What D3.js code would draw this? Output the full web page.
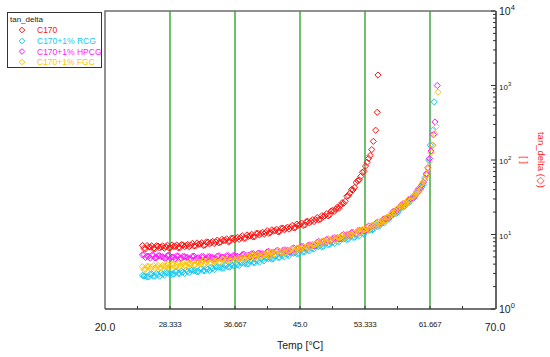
<!DOCTYPE html>
<html><head><meta charset="utf-8">
<script src="https://cdn.jsdelivr.net/npm/d3@7"></script>
<style>
html,body{margin:0;padding:0;background:#fff;}
svg{display:block;font-family:"Liberation Sans",Arial,sans-serif;}
</style></head>
<body>
<svg id="chart" width="550" height="357"></svg>
<script>
// ---- data ----
const temps = [24.8,25.2,25.6,26.0,26.4,26.8,27.2,27.6,
28.0,28.4,28.8,29.2,29.6,30.0,30.4,30.8,
31.2,31.6,32.0,32.4,32.8,33.2,33.6,34.0,
34.4,34.8,35.2,35.6,36.0,36.4,36.8,37.2,
37.6,38.0,38.4,38.8,39.2,39.6,40.0,40.4,
40.8,41.2,41.6,42.0,42.4,42.8,43.2,43.6,
44.0,44.4,44.8,45.2,45.6,46.0,46.4,46.8,
47.2,47.6,48.0,48.4,48.8,49.2,49.6,50.0,
50.4,50.8,51.2,51.6,52.0,52.4,52.8,53.2,
53.6,54.0,54.4,54.8,55.2,55.6,56.0,56.4,
56.8,57.2,57.6,58.0,58.4,58.8,59.2,59.6,
60.0,60.4,60.8,61.2];
const temps2 = [25.0,25.4,25.8,26.2,26.6,27.0,27.4,27.8,
28.2,28.6,29.0,29.4,29.8,30.2,30.6,31.0,
31.4,31.8,32.2,32.6,33.0,33.4,33.8,34.2,
34.6,35.0,35.4,35.8,36.2,36.6,37.0,37.4,
37.8,38.2,38.6,39.0,39.4,39.8,40.2,40.6,
41.0,41.4,41.8,42.2,42.6,43.0,43.4,43.8,
44.2,44.6,45.0,45.4,45.8,46.2,46.6,47.0,
47.4,47.8,48.2,48.6,49.0,49.4,49.8,50.2,
50.6,51.0,51.4,51.8,52.2,52.6,53.0,53.4,
53.8,54.2,54.6,55.0,55.4,55.8,56.2,56.6,
57.0,57.4,57.8,58.2,58.6,59.0,59.4,59.8,
60.2,60.6,61.0];

// C170
const c170 = [7.10,6.42,6.80,7.05,6.45,6.99,6.81,6.55,
7.18,6.64,6.90,7.23,6.65,7.26,7.10,6.87,
7.59,7.02,7.38,7.76,7.19,7.90,7.78,7.57,
8.40,7.89,8.26,8.73,8.08,8.93,8.83,8.61,
9.60,8.94,9.48,10.05,9.37,10.37,10.28,10.08,
11.26,10.59,11.12,11.80,10.98,12.15,12.05,11.81,
13.22,12.42,13.34,14.26,13.42,14.99,15.03,14.90,
16.87,16.00,17.38,18.93,18.32,21.03,21.88,22.50,
26.73,27.97,33.11,40.07,42.88,52.83,60.26,70.3];
const c170b = [6.49,7.10,6.77,6.45,7.06,6.60,7.02,6.83,
6.57,7.22,6.93,6.63,7.31,6.86,7.34,7.20,
6.98,7.71,7.42,7.14,7.92,7.49,8.07,7.95,
7.74,8.60,8.33,8.03,8.93,8.49,9.17,9.06,
8.86,9.86,9.57,9.27,10.36,9.87,10.70,10.61,
10.39,11.57,11.24,10.88,12.15,11.57,12.54,12.45,
12.25,13.80,13.53,13.22,14.91,14.35,15.73,15.80,
15.72,17.88,17.79,17.80,20.64,20.52,23.34,24.57,
26.18,32.52,36.0,39.70,49.90,54.10,68.34];
const c170TailT = [53.4,53.6,53.8,54.0,54.2,54.4,54.7,54.9,55.0];
const c170TailV = [83,93,105,115,138,178,251,437,1380];

// C170+1% RCG
const rcg = [2.83,2.78,2.70,2.95,2.75,2.90,3.04,2.84,
3.08,3.01,2.93,3.20,2.99,3.14,3.31,3.08,
3.34,3.27,3.18,3.49,3.26,3.44,3.62,3.39,
3.69,3.64,3.54,3.90,3.65,3.86,4.09,3.83,
4.18,4.12,4.03,4.45,4.19,4.44,4.70,4.43,
4.85,4.81,4.71,5.21,4.92,5.22,5.54,5.22,
5.73,5.69,5.59,6.20,5.86,6.24,6.69,6.36,
7.02,7.03,6.95,7.75,7.35,7.87,8.41,7.99,
8.81,8.79,8.68,9.66,9.17,9.89,10.67,10.20,
11.42,11.61,11.73,13.36,13.07,14.52,16.11,16.00,
18.49,19.32,20.05,23.83,23.89,27.04,30.56,30.78,
36.54,40.74,47.02,64.13];
const rcgB = [2.77,2.68,2.94,2.76,2.97,2.76,2.94,3.09,
3.00,2.91,3.19,3.00,3.22,3.00,3.20,3.35,
3.26,3.16,3.47,3.28,3.52,3.29,3.51,3.70,
3.61,3.52,3.87,3.66,3.94,3.70,3.96,4.19,
4.09,3.99,4.41,4.19,4.53,4.26,4.57,4.85,
4.76,4.67,5.16,4.91,5.33,5.01,5.39,5.72,
5.63,5.52,6.13,5.85,6.36,6.02,6.53,6.99,
6.93,6.85,7.64,7.33,8.00,7.58,8.21,8.77,
8.67,8.56,9.53,9.14,10.01,9.57,10.44,11.29,
11.35,11.44,13.04,12.83,14.49,14.25,16.08,18.00,
18.64,19.30,22.78,23.18,26.74,26.80,30.72,35.12,
38.11,43.07,57.53];
const rcgTailT = [61.5,61.7,62.0,62.2];
const rcgTailV = [100,158,251,603];

// C170+1% HPCG
const hpcg = [5.34,4.92,5.09,5.27,4.86,5.20,5.04,4.82,
5.21,4.80,4.98,5.17,4.74,5.08,4.91,4.70,
5.09,4.68,4.86,5.05,4.68,5.03,4.89,4.70,
5.12,4.74,4.97,5.19,4.81,5.20,5.08,4.92,
5.36,4.98,5.25,5.52,5.16,5.59,5.50,5.34,
5.84,5.46,5.75,6.05,5.66,6.16,6.07,5.90,
6.49,6.10,6.47,6.87,6.49,7.13,7.13,7.06,
7.87,7.49,8.04,8.59,8.15,8.95,8.91,8.76,
9.76,9.25,9.91,10.60,10.05,11.17,11.22,11.17,
12.59,12.09,13.18,14.35,13.94,15.81,16.22,16.76,
19.54,19.60,22.23,24.95,24.79,28.63,29.92,31.42,
37.76,40.02,50.12,65.6];
const hpcgB = [5.38,5.11,4.83,5.27,4.90,5.20,5.03,4.81,
5.26,4.99,4.73,5.15,4.79,5.07,4.91,4.70,
5.13,4.87,4.62,5.06,4.73,5.03,4.90,4.71,
5.18,4.96,4.73,5.20,4.88,5.22,5.10,4.93,
5.43,5.22,5.02,5.55,5.24,5.63,5.53,5.37,
5.94,5.72,5.50,6.09,5.76,6.21,6.11,5.95,
6.61,6.41,6.21,6.95,6.63,7.24,7.24,7.16,
8.07,7.92,7.74,8.71,8.33,9.06,9.02,8.88,
9.99,9.78,9.55,10.74,10.34,11.36,11.43,11.40,
12.97,12.89,12.82,14.73,14.49,16.26,16.84,17.40,
20.59,21.33,21.95,25.90,26.01,29.73,31.33,33.14,
40.95,45.90,53.77];
const hpcgTailT = [61.4,61.6,61.8,62.0,62.1,62.3,62.6];
const hpcgTailV = [79,105,132,158,219,324,1000];

// C170+1% FGC
const fgc = [3.69,3.43,3.72,3.63,3.51,3.84,3.57,3.74,
3.93,3.66,3.97,3.88,3.76,4.11,3.83,4.03,
4.22,3.94,4.27,4.19,4.07,4.45,4.16,4.37,
4.60,4.28,4.65,4.55,4.42,4.84,4.51,4.76,
5.02,4.70,5.12,5.04,4.91,5.39,5.04,5.33,
5.64,5.29,5.77,5.69,5.55,6.10,5.73,6.07,
6.42,6.03,6.59,6.53,6.41,7.11,6.77,7.26,
7.78,7.40,8.18,8.17,8.05,8.93,8.46,9.02,
9.64,9.15,10.08,10.07,9.94,11.15,10.65,11.51,
12.45,11.95,13.42,13.65,13.78,15.78,15.39,17.26,
19.32,19.37,22.64,23.71,24.51,28.58,28.40,32.36,
37.33,39.56,51.04,61.66];
const fgcB = [3.38,3.73,3.51,3.83,3.68,3.56,3.84,3.76,
3.61,3.98,3.75,4.10,3.94,3.81,4.13,4.05,
3.88,4.29,4.04,4.43,4.26,4.13,4.48,4.40,
4.22,4.66,4.39,4.80,4.63,4.49,4.87,4.80,
4.62,5.13,4.85,5.33,5.15,5.01,5.45,5.38,
5.19,5.78,5.48,6.02,5.83,5.68,6.20,6.12,
5.91,6.59,6.27,6.94,6.76,6.67,7.37,7.37,
7.22,8.14,7.81,8.69,8.49,8.35,9.18,9.15,
8.93,10.05,9.63,10.72,10.54,10.47,11.64,11.74,
11.60,13.25,12.94,14.70,14.76,14.98,17.14,17.92,
18.41,21.92,22.16,25.85,26.51,27.39,31.90,34.13,
36.62,47.20,53.93];
const fgcTailT = [61.4,61.6,61.8,62.0,62.3,62.5,62.7];
const fgcTailV = [76,95,126,158,224,282,813];

const seriesNames = ["C170","C170+1% RCG","C170+1% HPCG","C170+1% FGC"];
const seriesColors = ["#ff1010","#18c8f5","#ff14ff","#ffc400"];
const xTickValues = [20,28.333,36.667,45,53.333,61.667,70];
const xTickLabels = ["20.0","28.333","36.667","45.0","53.333","61.667","70.0"];
const yTickValues = [1,10,100,1000,10000];
const yTickExps = ["0","1","2","3","4"];

// ---- build series ----
function build(vals, valsB, tailT, tailV){
  const pts = [];
  vals.forEach((v,i)=>{
    pts.push({t:temps[i], v:v});
    if(i < valsB.length) pts.push({t:temps2[i], v:valsB[i]});
  });
  tailT.forEach((t,i)=>pts.push({t:t, v:tailV[i]}));
  return pts;
}
const series = [
  build(c170, c170b, c170TailT, c170TailV),
  build(rcg, rcgB, rcgTailT, rcgTailV),
  build(hpcg, hpcgB, hpcgTailT, hpcgTailV),
  build(fgc, fgcB, fgcTailT, fgcTailV)
];

// ---- scales ----
const x = d3.scaleLinear().domain([20,70]).range([105,495]);
const y = d3.scaleLog().domain([1,10000]).range([309,11]);

const svg = d3.select("#chart");

// green vertical grid lines
svg.append("g").selectAll("line").data(xTickValues.slice(1,-1)).join("line")
  .attr("x1",d=>x(d)).attr("x2",d=>x(d)).attr("y1",y(10000)).attr("y2",y(1))
  .attr("stroke","#4cb04c").attr("stroke-width",1.6);

// frame (top and left)
svg.append("path")
  .attr("d",`M${x(20)},${y(1)}V${y(10000)}H${x(70)}`)
  .attr("fill","none").attr("stroke","#6e6e6e").attr("stroke-width",1.5);

// diamonds
const R = 3.1;
const diamond = (cx,cy,r)=>`M${cx},${cy-r}L${cx+r},${cy}L${cx},${cy+r}L${cx-r},${cy}Z`;
series.forEach((pts,si)=>{
  svg.append("g").selectAll("path").data(pts).join("path")
    .attr("d",d=>diamond(x(d.t),y(d.v),R))
    .attr("fill","none").attr("stroke",seriesColors[si]).attr("stroke-width",1);
});

// bottom axis
const bottom = svg.append("g");
bottom.append("line").attr("x1",x(20)).attr("x2",x(70)).attr("y1",y(1)).attr("y2",y(1))
  .attr("stroke","#444").attr("stroke-width",1.5);
const minorX = d3.range(1,12).map(i=>20+i*50/12);
bottom.selectAll("line.tk").data(minorX).join("line").attr("class","tk")
  .attr("x1",d=>x(d)).attr("x2",d=>x(d)).attr("y1",y(1)).attr("y2",y(1)-3)
  .attr("stroke","#333").attr("stroke-width",1);
bottom.selectAll("text").data(xTickValues).join("text")
  .attr("x",d=>x(d))
  .attr("y",(d,i)=> (i===0||i===xTickValues.length-1)?331:327)
  .attr("text-anchor","middle")
  .attr("font-size",(d,i)=> (i===0||i===xTickValues.length-1)?10.5:8)
  .attr("fill","#222")
  .attr("letter-spacing",(d,i)=> (i===0||i===xTickValues.length-1)?0:-0.3)
  .text((d,i)=>xTickLabels[i]);
svg.append("text").attr("x",300).attr("y",349).attr("text-anchor","middle")
  .attr("font-size",10.5).attr("fill","#222").text("Temp [°C]");

// right log axis
const right = svg.append("g");
right.append("line").attr("x1",x(70)+1).attr("x2",x(70)+1).attr("y1",y(1)).attr("y2",y(10000))
  .attr("stroke","#333").attr("stroke-width",1.5);
const minorY = [];
for(let e=0;e<4;e++){ for(let m=2;m<=9;m++){ minorY.push(m*Math.pow(10,e)); } }
right.selectAll("line.mn").data(minorY).join("line").attr("class","mn")
  .attr("x1",x(70)+1).attr("x2",x(70)-2).attr("y1",d=>y(d)).attr("y2",d=>y(d))
  .attr("stroke","#333").attr("stroke-width",1);
right.selectAll("line.mj").data(yTickValues).join("line").attr("class","mj")
  .attr("x1",x(70)+1).attr("x2",x(70)-4).attr("y1",d=>y(d)).attr("y2",d=>y(d))
  .attr("stroke","#333").attr("stroke-width",1);
const lab = right.selectAll("text").data(yTickValues).join("text")
  .attr("x",x(70)+4).attr("y",d=>y(d)+4)
  .attr("font-size",d=> (d===1||d===10000)?10.5:8).attr("fill","#222");
lab.append("tspan").text("10");
lab.append("tspan").attr("dy",d=> (d===1||d===10000)?-5:-4)
  .attr("font-size",d=> (d===1||d===10000)?7.5:6).text((d,i)=>yTickExps[i]);

// right axis title (rotated)
svg.append("text").attr("transform","translate(538,160) rotate(90)")
  .attr("text-anchor","middle").attr("font-size",9.5).attr("fill","#ff2020")
  .text("tan_delta (\u25C7)");
svg.append("text").attr("transform","translate(521,160) rotate(90)")
  .attr("text-anchor","middle").attr("font-size",9.5).attr("fill","#ff2020")
  .text("[ ]");

// legend
const lg = svg.append("g");
lg.append("rect").attr("x",7.5).attr("y",12.5).attr("width",94).attr("height",55)
  .attr("fill","#fff").attr("stroke","#333").attr("stroke-width",1);
lg.append("text").attr("x",10).attr("y",22).attr("font-size",8).attr("fill","#222").text("tan_delta");
const rowsY = [30,41,51.5,62];
seriesNames.forEach((n,i)=>{
  lg.append("path").attr("d",diamond(22,rowsY[i],2.8)).attr("fill","none")
    .attr("stroke",seriesColors[i]).attr("stroke-width",1);
  lg.append("text").attr("x",37).attr("y",rowsY[i]+3).attr("font-size",8.5)
    .attr("fill",seriesColors[i]).text(n);
});
</script>
</body></html>
